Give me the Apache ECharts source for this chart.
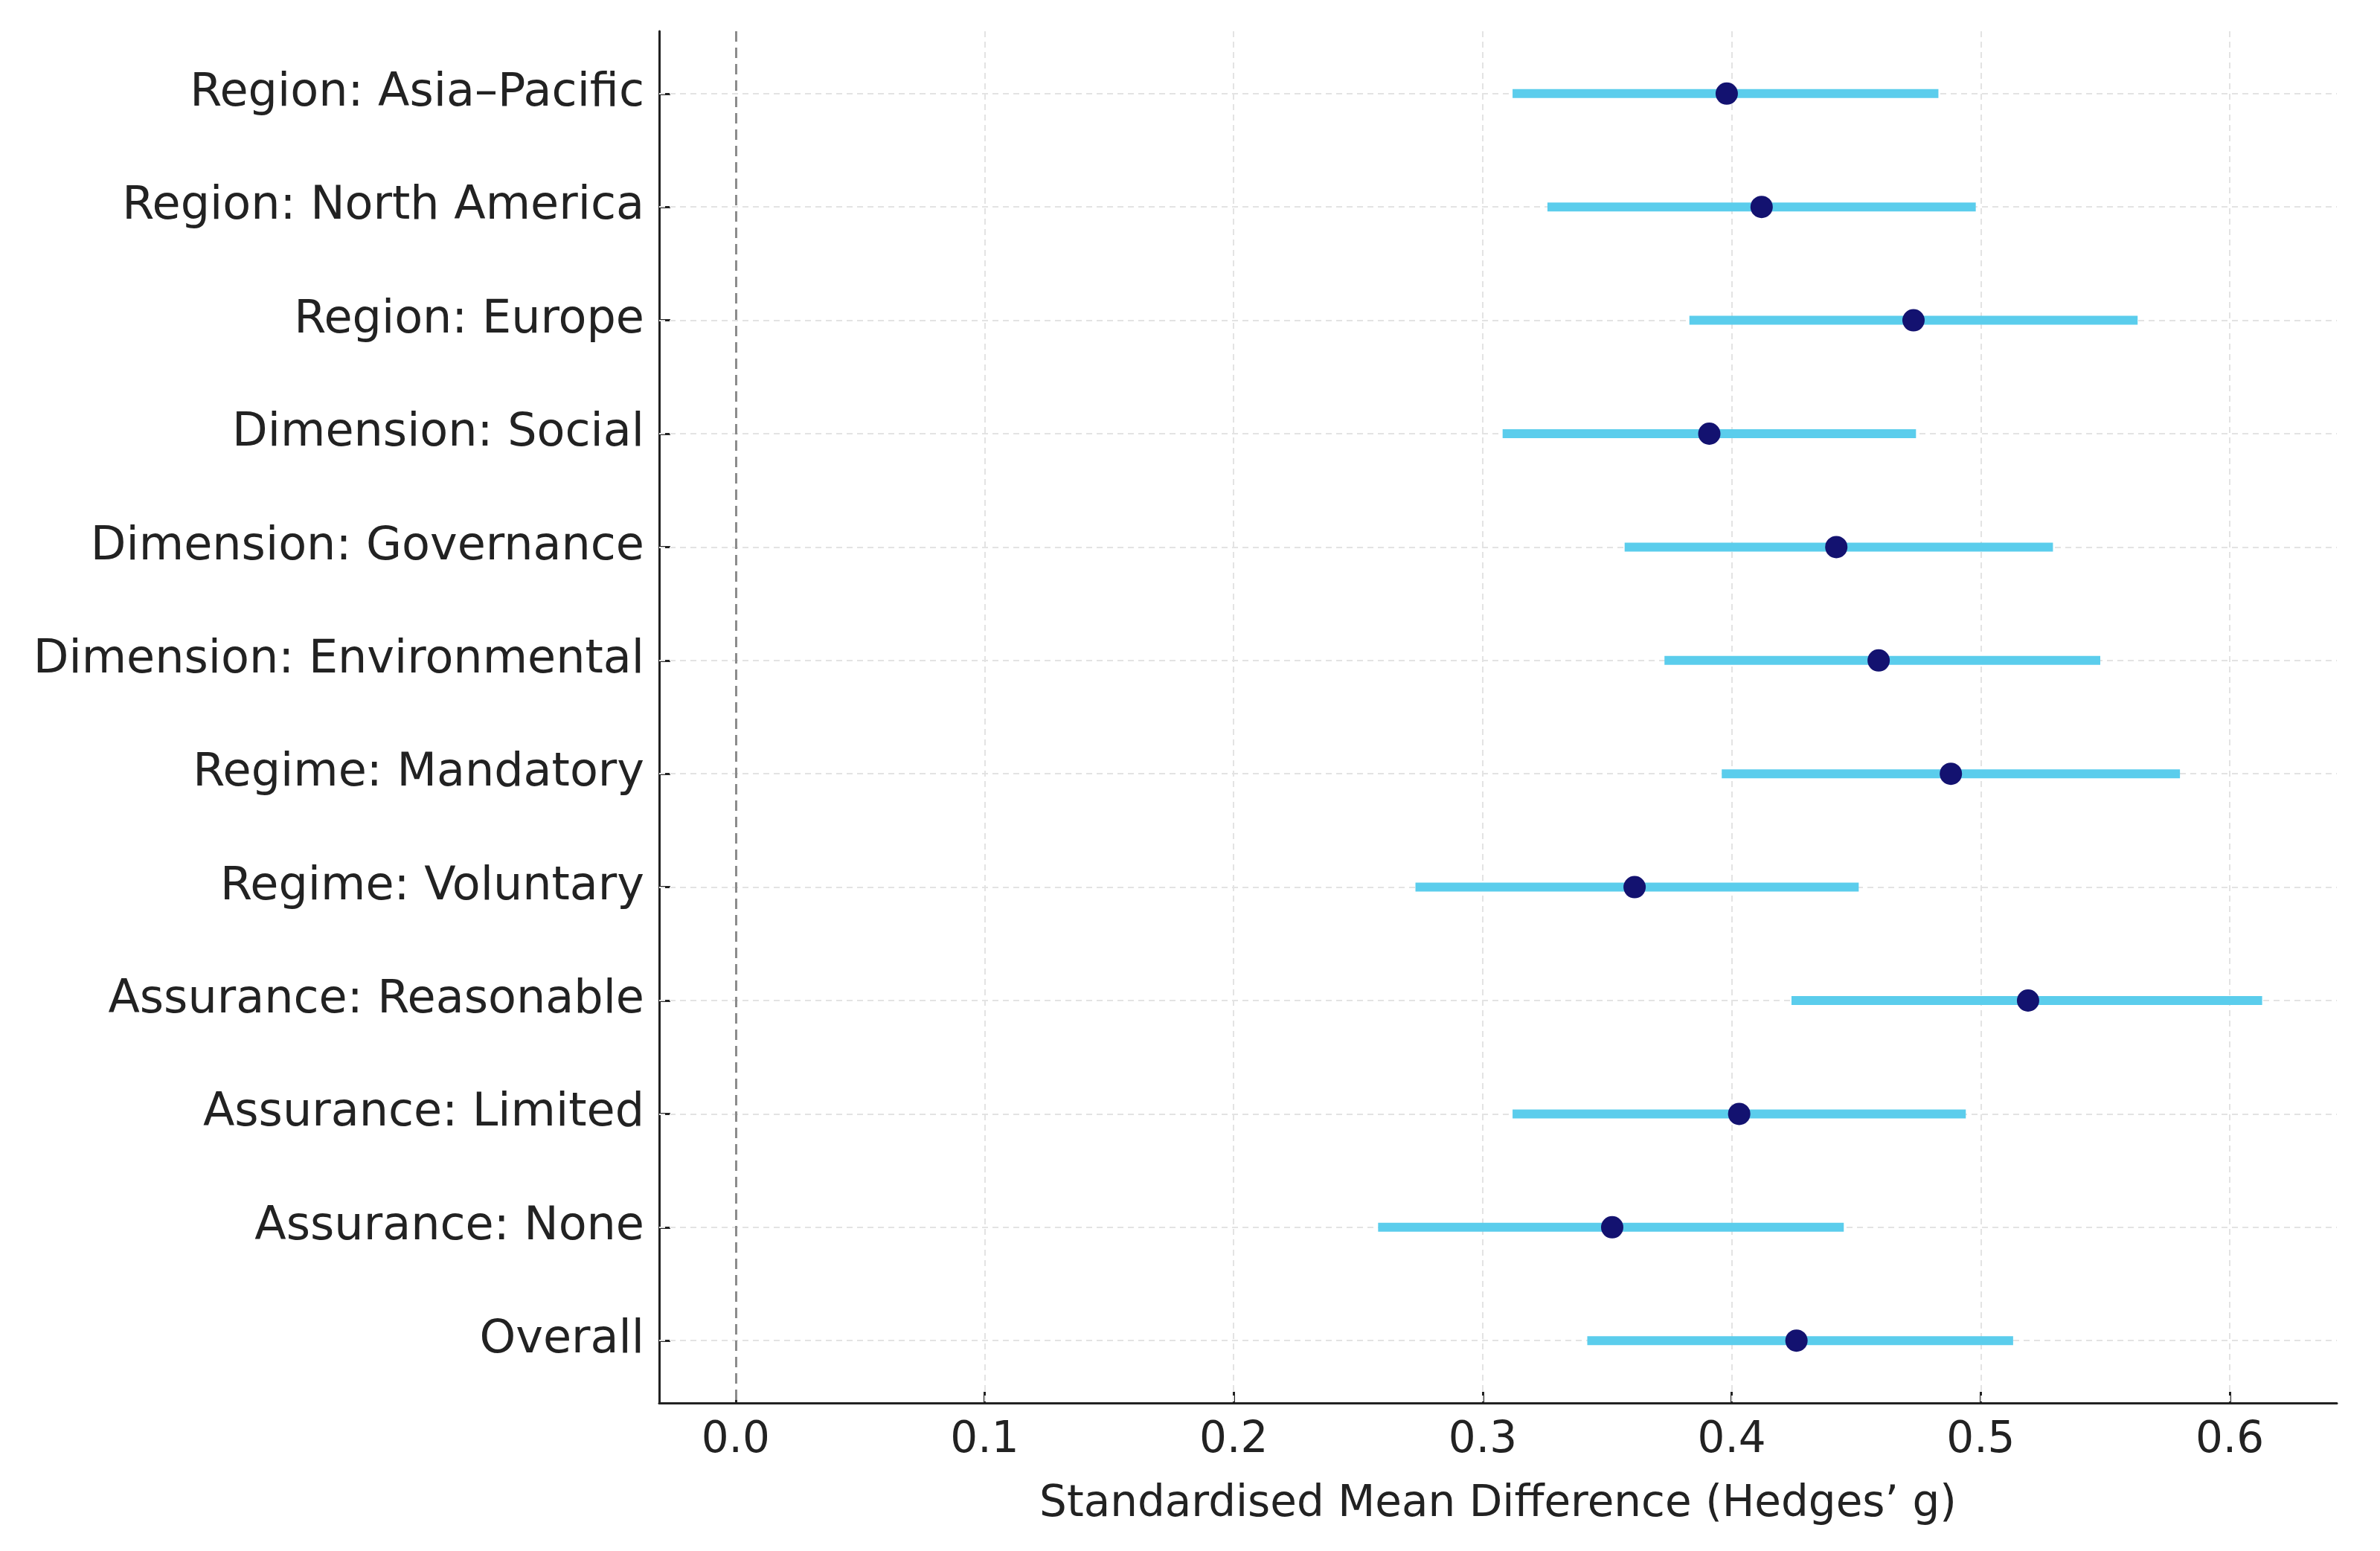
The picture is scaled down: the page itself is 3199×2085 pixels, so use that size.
<!DOCTYPE html>
<html>
<head>
<meta charset="utf-8">
<script src="https://cdn.jsdelivr.net/npm/echarts@6/dist/echarts.min.js"></script>
<style>
html,body{margin:0;padding:0;background:#fff;}
#chart{width:3199px;height:2085px;}
</style>
</head>
<body>
<div id="chart"></div>
<script>
const categories = [
  "Region: Asia–Pacific",
  "Region: North America",
  "Region: Europe",
  "Dimension: Social",
  "Dimension: Governance",
  "Dimension: Environmental",
  "Regime: Mandatory",
  "Regime: Voluntary",
  "Assurance: Reasonable",
  "Assurance: Limited",
  "Assurance: None",
  "Overall"
];
const estimates = [0.398, 0.412, 0.473, 0.391, 0.442, 0.459, 0.488, 0.361, 0.519, 0.403, 0.352, 0.426];
const ciLower   = [0.312, 0.326, 0.383, 0.308, 0.357, 0.373, 0.396, 0.273, 0.424, 0.312, 0.258, 0.342];
const ciUpper   = [0.483, 0.498, 0.563, 0.474, 0.529, 0.548, 0.580, 0.451, 0.613, 0.494, 0.445, 0.513];
const xTicks = [0.0, 0.1, 0.2, 0.3, 0.4, 0.5, 0.6];
const xTitle = "Standardised Mean Difference (Hedges’ g)";

const rowIdx = categories.map((_, i) => i);
const font = "DejaVu Sans";

const chart = echarts.init(document.getElementById('chart'), null, {renderer: 'canvas'});
chart.setOption({
  backgroundColor: '#ffffff',
  animation: false,
  grid: {left: 886, right: 58, top: 42, bottom: 199, containLabel: false},
  xAxis: {
    type: 'value',
    min: -0.0307,
    max: 0.643,
    name: xTitle,
    nameLocation: 'middle',
    nameGap: 108,
    nameTextStyle: {fontFamily: font, fontSize: 58, color: '#222'},
    axisLine: {show: true, onZero: false, lineStyle: {color: '#222', width: 3}},
    axisTick: {show: true, inside: true, length: 15, lineStyle: {color: '#222', width: 3}, customValues: xTicks},
    axisLabel: {show: true, fontFamily: font, fontSize: 58, color: '#222', margin: 22,
      customValues: xTicks, formatter: v => Number(v).toFixed(1)},
    splitLine: {show: false}
  },
  yAxis: {
    type: 'value',
    inverse: true,
    min: -0.55,
    max: 11.55,
    axisLine: {show: true, onZero: false, lineStyle: {color: '#222', width: 3}},
    axisTick: {show: true, inside: true, length: 15, lineStyle: {color: '#222', width: 3}, customValues: rowIdx},
    axisLabel: {show: true, fontFamily: font, fontSize: 62, color: '#222', margin: 20,
      customValues: rowIdx, formatter: v => categories[Math.round(v)] || ''},
    splitLine: {show: false}
  },
  series: [
    {
      type: 'line',
      data: [],
      silent: true,
      z: 1,
      markLine: {
        z: 1,
        symbol: 'none', silent: true, label: {show: false},
        lineStyle: {color: '#e3e3e3', width: 2, type: [8, 6]},
        data: xTicks.filter(v => v > 0).map(v => ({xAxis: v})).concat(rowIdx.map(i => ({yAxis: i})))
      }
    },
    {
      type: 'line',
      data: [],
      silent: true,
      z: 2,
      markLine: {
        z: 2,
        symbol: 'none', silent: true, label: {show: false},
        lineStyle: {color: '#8c8c8c', width: 3, type: [14, 8]},
        data: [{xAxis: 0}]
      }
    },
    {
      type: 'custom',
      silent: true,
      data: rowIdx.map(i => [ciLower[i], ciUpper[i], i]),
      encode: {x: [0, 1], y: 2},
      renderItem: function (params, api) {
        const p1 = api.coord([api.value(0), api.value(2)]);
        const p2 = api.coord([api.value(1), api.value(2)]);
        return {
          type: 'line',
          shape: {x1: p1[0], y1: p1[1], x2: p2[0], y2: p2[1]},
          style: {stroke: '#5bcdec', lineWidth: 12, lineCap: 'butt'}
        };
      },
      z: 5
    },
    {
      type: 'scatter',
      data: rowIdx.map(i => [estimates[i], i]),
      symbol: 'circle',
      symbolSize: 30,
      itemStyle: {color: '#131270', opacity: 1},
      z: 6
    }
  ]
});
</script>
</body>
</html>
